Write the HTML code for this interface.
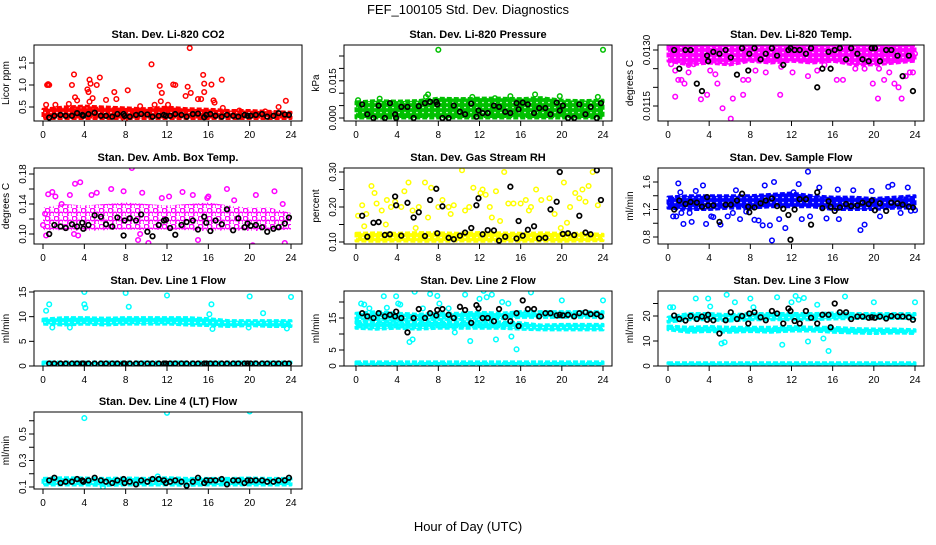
<!DOCTYPE html>
<html><head><meta charset="utf-8"><style>
body{margin:0;background:#fff}
svg text{font-family:"Liberation Sans",sans-serif}
</style></head><body>
<svg id="chart" width="936" height="540" viewBox="0 0 936 540" xmlns="http://www.w3.org/2000/svg">
<defs id="defs"></defs>
<text x="468" y="14" text-anchor="middle" font-size="13">FEF_100105  Std. Dev. Diagnostics</text>
<text x="468" y="531" text-anchor="middle" font-size="13">Hour of Day (UTC)</text>
</svg>
<script>
const xTicks = [0,4,8,12,16,20,24];
const blkHours = [0.6,1.1,1.7,2.2,2.8,3.3,3.8,3.9,4.4,5.0,5.6,6.1,6.7,7.2,7.8,7.9,8.4,9.0,9.5,10.1,10.6,11.2,11.7,11.9,12.3,12.8,13.4,13.9,14.5,15.0,15.6,15.8,16.2,16.7,17.3,17.8,18.4,18.9,19.5,19.8,20.1,20.6,21.2,21.7,22.3,22.8,23.4,23.8];
const bandHours = [0,2,4,6,8,10,12,14,16,18,20,22,24];

// CO2
const co2Lo = [0.24,0.24,0.24,0.24,0.24,0.24,0.24,0.24,0.24,0.24,0.24,0.24,0.24];
const co2Hi = [0.45,0.5,0.52,0.5,0.48,0.46,0.5,0.46,0.45,0.42,0.42,0.4,0.38];
const co2OutH = [0.4,0.5,0.6,0.3,1.2,2.5,2.8,3.0,3.1,3.3,4.3,4.4,4.5,4.6,4.5,4.8,5.2,5.5,6.1,6.9,7.1,8.2,9.4,10.5,10.8,11.3,11.5,11.4,12.6,12.8,12.1,13.8,14.0,14.2,14.3,15.0,15.3,15.5,15.6,15.6,16.3,16.5,16.6,17.3,17.4,19.0,21.5,22.8,23.5,7.9];
const co2OutV = [1.0,1.02,1.0,0.55,0.55,0.57,1.0,1.24,0.72,0.65,0.9,0.84,1.12,1.03,0.62,0.7,1.0,1.17,0.66,0.84,0.68,0.88,0.52,1.47,0.55,0.98,0.82,0.63,1.01,1.0,0.55,0.75,0.96,1.84,0.82,0.68,0.68,1.23,1.03,0.84,1.01,0.65,0.6,1.12,0.48,0.42,0.4,0.5,0.64,0.2];
const co2Blk = [0.26,0.3,0.32,0.3,0.3,0.36,0.32,0.3,0.34,0.37,0.3,0.3,0.28,0.34,0.34,0.3,0.28,0.32,0.34,0.33,0.28,0.3,0.32,0.3,0.3,0.34,0.32,0.28,0.34,0.35,0.27,0.32,0.34,0.3,0.28,0.32,0.3,0.28,0.32,0.3,0.3,0.32,0.34,0.28,0.3,0.36,0.33,0.32];

// Pressure
const prLo = [0,0,0,0,0,0,0,0,0,0,0,0,0];
const prHi = [0.0065,0.007,0.0068,0.007,0.008,0.0078,0.008,0.008,0.0078,0.0082,0.0072,0.007,0.0072];
const prOutH = [8,24,7,17.4,15,23.5,0.2,2.3,6.8,11.3,13.5,19.8];
const prOutV = [0.0275,0.0275,0.0095,0.0095,0.0088,0.0085,0.0072,0.0078,0.0085,0.0085,0.008,0.0088];
const prBlk = [0.0055,0.0015,0,0.005,0,0.006,0.0015,0,0.0045,0.0045,0,0.0048,0.006,0.0065,0.0065,0.0055,0,0,0.005,0.0025,0.0015,0.0058,0.0005,0.003,0.002,0.002,0.005,0.0045,0.0025,0.002,0.006,0.0035,0.0062,0.0055,0.002,0.004,0.004,0.0015,0.0062,0.003,0.005,0,0,0.0055,0.0015,0.0045,0,0.006];

// Li-820 Temp
const tpLo = [0.0127,0.0126,0.01265,0.0126,0.0127,0.01265,0.0127,0.01265,0.0127,0.0126,0.0126,0.01265,0.0127];
const tpHi = [0.0132,0.0132,0.0132,0.0132,0.0132,0.0132,0.0132,0.0132,0.0132,0.0132,0.0132,0.0132,0.0132];
const tpOutH = [0.3,0.7,1.0,1.3,1.6,0.7,2.0,2.5,3.2,3.8,4.1,4.6,4.8,5.3,6.1,6.3,7.3,7.3,7.8,8.5,9.5,10.9,12.1,13.6,14.5,16.4,17.0,18.2,19.1,19.9,20.4,21.0,21.5,22.0,22.4,22.7,23.1,23.5,23.8,24.0,2.0,11.0,15.2,20.5];
const tpOutV = [0.01262,0.01245,0.0122,0.0122,0.0121,0.01175,0.0124,0.01262,0.01168,0.0118,0.01245,0.01235,0.0121,0.01144,0.01116,0.0117,0.0118,0.0122,0.0122,0.01245,0.0124,0.0118,0.0124,0.0123,0.01245,0.0122,0.0122,0.0125,0.0125,0.0121,0.0117,0.0122,0.0124,0.0121,0.012,0.0117,0.0123,0.0124,0.0124,0.0129,0.0126,0.01255,0.0126,0.0125];
const tpBlk = [0.013,0.0125,0.013,0.013,0.0121,0.0119,0.01285,0.0127,0.01295,0.0129,0.013,0.0128,0.01234,0.01305,0.01245,0.0129,0.01305,0.01275,0.0129,0.01305,0.01285,0.0126,0.013,0.01305,0.013,0.013,0.0129,0.01305,0.012,0.0125,0.01295,0.0125,0.013,0.01305,0.01275,0.01305,0.0129,0.01275,0.0127,0.01305,0.01305,0.0127,0.013,0.013,0.01285,0.0123,0.01285,0.0119];

// Amb box temp
const abLo = [0.105,0.105,0.104,0.105,0.106,0.105,0.106,0.105,0.104,0.105,0.104,0.104,0.106];
const abHi = [0.135,0.14,0.138,0.14,0.142,0.14,0.138,0.14,0.142,0.138,0.135,0.135,0.128];
const abOutH = [0.0,0.3,0.5,0.9,1.2,1.8,2.6,3.1,3.4,3.6,4.7,5.2,6.6,7.8,8.6,9.2,9.6,10.2,11.5,13.5,14.5,15.0,16.0,17.8,18.5,20.3,20.6,22.4,23.2,23.4,9.4,0.2,3.0,12.2,15.9];
const abOutV = [0.112,0.098,0.153,0.156,0.15,0.14,0.152,0.167,0.098,0.169,0.152,0.155,0.16,0.157,0.188,0.092,0.155,0.088,0.148,0.156,0.152,0.092,0.15,0.16,0.145,0.085,0.152,0.157,0.14,0.088,0.1,0.127,0.1,0.15,0.148];
const abBlk = [0.1,0.112,0.11,0.108,0.113,0.11,0.115,0.107,0.112,0.125,0.123,0.113,0.11,0.122,0.098,0.118,0.121,0.118,0.126,0.103,0.097,0.112,0.118,0.119,0.108,0.099,0.112,0.116,0.118,0.106,0.123,0.115,0.104,0.118,0.113,0.133,0.105,0.121,0.109,0.114,0.111,0.112,0.109,0.103,0.107,0.109,0.114,0.122];

// Gas stream RH
const rhLo = [0.103,0.102,0.103,0.102,0.102,0.103,0.102,0.103,0.102,0.103,0.102,0.103,0.104];
const rhHi = [0.125,0.126,0.125,0.127,0.126,0.125,0.127,0.126,0.125,0.126,0.125,0.125,0.122];
const rhOutH = [0.2,0.6,1.0,1.5,1.8,2.0,2.5,3.0,3.4,3.8,4.4,4.7,5.1,5.5,6.1,6.7,7.0,7.3,8.0,8.4,9.0,9.5,10.3,10.6,11.0,11.4,12.1,12.3,12.6,13.0,13.6,14.0,14.4,14.8,15.3,16.0,16.5,17.0,17.5,18.0,18.8,19.3,19.9,20.2,20.8,21.3,21.7,22.0,22.6,23.0,23.5,0.8,2.9,5.8,9.2,13.2,16.8,20.5,22.3];
const rhOutV = [0.175,0.205,0.18,0.26,0.24,0.21,0.19,0.22,0.2,0.215,0.2,0.245,0.27,0.19,0.2,0.27,0.17,0.255,0.2,0.22,0.2,0.205,0.305,0.19,0.2,0.255,0.24,0.25,0.235,0.2,0.245,0.16,0.3,0.21,0.21,0.21,0.22,0.2,0.25,0.22,0.225,0.18,0.14,0.27,0.2,0.24,0.225,0.25,0.26,0.3,0.205,0.145,0.15,0.14,0.18,0.17,0.19,0.155,0.215];
const rhBlk = [0.175,0.115,0.155,0.157,0.12,0.122,0.23,0.205,0.118,0.212,0.17,0.185,0.117,0.22,0.252,0.125,0.202,0.112,0.108,0.118,0.127,0.14,0.205,0.225,0.122,0.134,0.133,0.104,0.115,0.258,0.11,0.16,0.118,0.135,0.145,0.11,0.112,0.193,0.215,0.3,0.123,0.125,0.12,0.175,0.127,0.122,0.305,0.22];

// Sample flow
const sfLo = [1.22,1.2,1.2,1.22,1.22,1.24,1.24,1.24,1.2,1.2,1.2,1.22,1.22];
const sfHi = [1.38,1.4,1.4,1.4,1.4,1.42,1.44,1.4,1.38,1.38,1.36,1.38,1.4];
const sfOutH = [0.2,0.5,0.8,1.0,1.3,1.5,2.1,2.3,2.7,3.4,3.7,4.2,4.4,5.1,5.8,6.3,7.0,7.6,8.4,8.8,9.2,9.4,9.9,10.1,10.3,10.8,11.4,12.7,13.0,13.6,13.8,14.7,15.4,16.6,18.0,18.7,19.1,19.8,20.6,21.4,21.8,22.6,23.3,23.6,24.0,1.2,6.6,12.2,16.5];
const sfOutV = [1.28,1.1,1.1,1.58,1.15,0.99,1.15,1.02,1.47,1.55,0.99,1.1,1.09,0.98,1.1,1.15,1.06,1.17,1.05,1.04,0.97,1.55,0.97,0.75,1.6,1.06,0.93,1.57,1.06,1.75,1.1,1.52,1.07,1.06,1.48,0.9,0.98,1.47,1.1,1.53,1.56,1.15,1.52,1.18,1.19,1.45,1.48,1.45,1.49];
const sfBlk = [1.2,1.33,1.28,1.31,1.3,1.24,1.38,1.26,1.26,1.02,1.27,1.27,1.33,1.43,1.24,1.16,1.23,1.29,1.33,1.36,1.25,1.21,1.12,0.76,1.2,1.35,1.35,0.98,1.45,1.22,1.32,1.24,1.18,1.23,1.28,1.25,1.26,1.3,1.28,1.33,1.19,1.29,1.18,1.3,1.29,1.27,1.24,1.23];

// Line 1 flow
const l1Lo = [8.5,8.3,8.5,8.3,8.5,8.5,8.5,8.3,8.2,8.0,8.2,8.0,8.0];
const l1Hi = [9.5,9.8,9.8,9.7,9.8,9.8,9.8,9.8,9.6,9.2,9.2,9.2,9.2];
const l1Lo2 = [0.3,0.3,0.3,0.3,0.3,0.3,0.3,0.3,0.3,0.3,0.3,0.3,0.3];
const l1Hi2 = [0.8,0.8,0.8,0.8,0.8,0.8,0.8,0.8,0.8,0.8,0.8,0.8,0.8];
const l1OutH = [4.0,0.6,4.0,4.1,8.0,8.3,12.0,16.3,20.0,24.0,21.3,0.3,0.9,2.6,16.1,16.4,19.9,23.6];
const l1OutV = [15,12.5,12.5,11.8,14.8,12,14.3,12.5,14.1,14,10.7,11.2,7.8,7.8,10.5,7.5,7.8,7.6];
const l1Blk = [0.5,0.5,0.5,0.5,0.5,0.5,0.5,0.5,0.5,0.5,0.5,0.5,0.5,0.5,0.5,0.5,0.5,0.5,0.5,0.5,0.5,0.5,0.5,0.5,0.5,0.5,0.5,0.5,0.5,0.5,0.5,0.5,0.5,0.5,0.5,0.5,0.5,0.5,0.5,0.5,0.5,0.5,0.5,0.5,0.5,0.5,0.5,0.5];

// Line 2 flow
const l2Lo = [11.8,11.5,11.8,11.5,11.8,11.8,11.8,11.8,11.5,11.3,11.3,11.3,11.3];
const l2Hi = [14.0,13.8,14.0,13.8,13.8,13.8,14.0,13.8,13.5,12.8,13.0,13.0,13.0];
const l2Lo2 = [0.3,0.3,0.3,0.3,0.3,0.3,0.3,0.3,0.3,0.3,0.3,0.3,0.3];
const l2Hi2 = [1.3,1.3,1.3,1.3,1.3,1.3,1.3,1.3,1.3,1.3,1.3,1.3,1.3];
const l2Lo3 = [14.8,14.5,14.5,14.5,14.5,14.5,14.8,14.8,15.2,15.2,15.2,15.2,15.2];
const l2Hi3 = [16.5,17.0,16.5,16.2,16.5,16.5,16.8,16.5,17.0,17.0,17.0,17.0,17.0];
const l2OutH = [0.2,0.5,0.8,2.7,3.9,4.1,4.3,5.2,5.5,5.7,6.5,7.2,7.9,8.1,9.6,10.6,11.1,12.0,12.4,12.7,13.2,13.6,14.2,14.8,15.1,15.6,17.0,20.0,24.0,1.3,3.0,9.0];
const l2OutV = [13.2,19.5,19.2,21.8,21.8,19.5,19.2,7.5,8.3,23.2,18,22.5,21.9,19.5,10.5,22.3,7.8,21,23.5,21.5,22.3,8.3,20.0,19.5,9.2,5.2,23,20.5,20.5,18.0,18.2,18.0];
const l2Blk = [16.5,15.5,15.0,16.5,15.5,16.0,15.5,17.0,15.0,10.5,15.0,17.8,15.0,16.5,15.8,17.5,17.8,16.0,15.0,18.5,17.5,13.5,19.0,18.0,15.0,15.0,14.0,17.8,15.3,14.0,16.5,12.5,20.5,17.8,17.8,15.5,16.5,16.5,15.8,16.0,15.8,16.0,15.5,16.5,16.8,16.2,16.2,15.5];

// Line 3 flow
const l3Lo = [14.5,13.5,13.8,13.5,13.8,13.5,14.0,14.0,13.5,13.2,13.0,13.2,13.0];
const l3Hi = [16.0,15.5,15.8,15.5,15.5,15.5,15.8,15.5,15.5,15.0,14.8,14.8,14.5];
const l3Lo2 = [0.3,0.3,0.3,0.3,0.3,0.3,0.3,0.3,0.3,0.3,0.3,0.3,0.3];
const l3Hi2 = [1.3,1.3,1.3,1.3,1.3,1.3,1.3,1.3,1.3,1.3,1.3,1.3,1.3];
const l3Lo3 = [17.5,18.5,18.5,18.0,18.5,18.5,18.5,18.5,18.8,19.0,19.0,19.0,19.0];
const l3Hi3 = [19.5,21.0,21.0,20.5,21.0,21.0,21.0,21.0,21.2,21.0,21.0,21.0,21.0];
const l3OutH = [0.2,0.5,2.7,3.9,4.1,5.2,5.5,5.7,6.5,8.0,8.3,10.6,11.1,12.0,12.4,12.7,13.2,13.6,14.5,15.1,15.6,17.2,20.0,24.0];
const l3OutV = [23.5,23.5,27,27,23.8,9.0,9.5,28.5,25.5,27,23.5,27.5,8.5,25.5,28,26.5,27.2,9.8,24.5,11,6,27.8,25.5,25.5];
const l3Blk = [20.2,18.8,18.2,20.0,18.8,19.8,18.5,20.5,18.3,13.0,18.3,21.5,18.8,20.0,17.0,21.0,21.5,19.5,18.3,22.0,21.0,17.0,23.0,22.0,18.0,17.0,22.0,19.3,17.0,20.5,20.5,15.5,25.0,21.5,21.5,18.8,19.8,19.8,19.3,19.5,19.3,19.8,19.0,20.0,19.8,19.8,19.5,18.5];

// Line 4 flow
const l4Lo = [0.115,0.115,0.115,0.112,0.115,0.115,0.115,0.113,0.115,0.115,0.115,0.115,0.115];
const l4Hi = [0.165,0.17,0.168,0.165,0.168,0.165,0.17,0.165,0.165,0.165,0.168,0.165,0.165];
const l4OutH = [4.0,12.0,20.0,11.1,5.8];
const l4OutV = [0.62,0.66,0.67,0.18,0.1];
const l4Blk = [0.15,0.17,0.13,0.14,0.14,0.16,0.15,0.14,0.15,0.17,0.15,0.14,0.13,0.15,0.16,0.13,0.14,0.12,0.15,0.14,0.16,0.16,0.15,0.13,0.14,0.15,0.14,0.11,0.14,0.17,0.13,0.15,0.15,0.15,0.16,0.12,0.15,0.15,0.13,0.15,0.15,0.15,0.15,0.14,0.14,0.15,0.15,0.17];

const NS = 'http://www.w3.org/2000/svg';
const svg = document.getElementById('chart');
const defs = document.getElementById('defs');
const cols = [{l:34,r:302,x0:43,x24:291},{l:344,r:612,x0:356,x24:603},{l:658,r:924,x0:668,x24:915}];
const rows = [{t:45,b:121},{t:168,b:244},{t:291,b:366},{t:412,b:489}];

function mk(tag, attrs, parent){
  const e = document.createElementNS(NS, tag);
  for (const k in attrs) e.setAttribute(k, attrs[k]);
  (parent||svg).appendChild(e);
  return e;
}

function pattern(id, color, sparse){
  const p = mk('pattern', {id:id, width: sparse ? 9 : 6, height: sparse ? 8 : 5, patternUnits:'userSpaceOnUse'}, defs);
  if (sparse) {
    mk('circle', {cx:2.5, cy:2.5, r:2.3, fill:'none', stroke:color, 'stroke-width':'1.5'}, p);
    mk('circle', {cx:7, cy:6.5, r:2.3, fill:'none', stroke:color, 'stroke-width':'1.5'}, p);
  } else {
    mk('rect', {x:0, y:0, width:6, height:5, fill:color}, p);
    mk('circle', {cx:3, cy:2.5, r:0.8, fill:'#fff'}, p);
  }
}

const panels = [
 {slug:'co2',title:'Stan. Dev. Li-820 CO2',ylab:'Licor ppm',c:0,r:0,color:'#ff0000',sparse:false,cal:[0.5,107,1.5,63],ticks:[0.5,1.0,1.5],labels:['0.5','1.0','1.5'],bands:[[co2Lo,co2Hi]],oh:co2OutH,ov:co2OutV,blk:co2Blk},
 {slug:'pressure',title:'Stan. Dev. Li-820 Pressure',ylab:'kPa',c:1,r:0,color:'#00c000',sparse:false,cal:[0,118,0.015,80.8],ticks:[0,0.005,0.01,0.015,0.02,0.025],labels:['0.000','','','0.015','',''],bands:[[prLo,prHi]],oh:prOutH,ov:prOutV,blk:prBlk},
 {slug:'temp',title:'Stan. Dev. Li-820 Temp.',ylab:'degrees C',c:2,r:0,color:'#ff00ff',sparse:false,cal:[0.0115,106,0.013,50],ticks:[0.0115,0.012,0.0125,0.013],labels:['0.0115','','','0.0130'],bands:[[tpLo,tpHi]],oh:tpOutH,ov:tpOutV,blk:tpBlk},
 {slug:'amb-box',title:'Stan. Dev. Amb. Box Temp.',ylab:'degrees C',c:0,r:1,color:'#ff00ff',sparse:true,cal:[0.1,234,0.18,174],ticks:[0.1,0.12,0.14,0.16,0.18],labels:['0.10','','0.14','','0.18'],bands:[[abLo,abHi]],oh:abOutH,ov:abOutV,blk:abBlk},
 {slug:'rh',title:'Stan. Dev. Gas Stream RH',ylab:'percent',c:1,r:1,color:'#ffff00',sparse:false,cal:[0.1,242,0.3,172],ticks:[0.1,0.15,0.2,0.25,0.3],labels:['0.10','','0.20','','0.30'],bands:[[rhLo,rhHi]],oh:rhOutH,ov:rhOutV,blk:rhBlk},
 {slug:'sample-flow',title:'Stan. Dev. Sample Flow',ylab:'ml/min',c:2,r:1,color:'#0000ff',sparse:false,cal:[0.8,237,1.6,182],ticks:[0.8,1.0,1.2,1.4,1.6],labels:['0.8','','1.2','','1.6'],bands:[[sfLo,sfHi]],oh:sfOutH,ov:sfOutV,blk:sfBlk},
 {slug:'line1',title:'Stan. Dev. Line 1 Flow',ylab:'ml/min',c:0,r:2,color:'#00ffff',sparse:false,cal:[0,366,15,292],ticks:[0,5,10,15],labels:['0','5','10','15'],bands:[[l1Lo,l1Hi],[l1Lo2,l1Hi2]],oh:l1OutH,ov:l1OutV,blk:l1Blk},
 {slug:'line2',title:'Stan. Dev. Line 2 Flow',ylab:'ml/min',c:1,r:2,color:'#00ffff',sparse:false,cal:[0,366,15,318],ticks:[0,5,10,15,20],labels:['0','5','','15',''],bands:[[l2Lo,l2Hi],[l2Lo2,l2Hi2],[l2Lo3,l2Hi3]],oh:l2OutH,ov:l2OutV,blk:l2Blk},
 {slug:'line3',title:'Stan. Dev. Line 3 Flow',ylab:'ml/min',c:2,r:2,color:'#00ffff',sparse:false,cal:[0,366,20,316],ticks:[0,10,20,25],labels:['0','10','20',''],bands:[[l3Lo,l3Hi],[l3Lo2,l3Hi2],[l3Lo3,l3Hi3]],oh:l3OutH,ov:l3OutV,blk:l3Blk},
 {slug:'line4',title:'Stan. Dev. Line 4 (LT) Flow',ylab:'ml/min',c:0,r:3,color:'#00ffff',sparse:false,cal:[0.1,487,0.5,434],ticks:[0.1,0.2,0.3,0.4,0.5,0.6],labels:['0.1','','0.3','','0.5',''],bands:[[l4Lo,l4Hi]],oh:l4OutH,ov:l4OutV,blk:l4Blk}
];

panels.forEach(p => {
  const C = cols[p.c], R = rows[p.r];
  const xs = h => C.x0 + h*(C.x24 - C.x0)/24;
  const ys = v => p.cal[1] + (v - p.cal[0])*(p.cal[3]-p.cal[1])/(p.cal[2]-p.cal[0]);
  const g = mk('g', {});
  
  
  const cid = 'clip-' + p.slug;
  const pid = 'pat-' + p.slug;
  pattern(pid, p.color, p.sparse);
  const cp = mk('clipPath', {id: cid}, g);
  mk('rect', {x:C.l, y:R.t, width:C.r-C.l, height:R.b-R.t}, cp);
  const t = mk('text', {x:(C.l+C.r)/2, y:R.t-7, 'text-anchor':'middle', 'font-size':'11', 'font-weight':'bold'}, g);
  
  
  t.textContent = p.title;
  const yl = mk('text', {transform:`translate(${C.l-25},${(R.t+R.b)/2}) rotate(-90)`, 'text-anchor':'middle', 'font-size':'10'}, g);
  
  
  yl.textContent = p.ylab;
  const marks = mk('g', {'clip-path':`url(#${cid})`}, g);
  
  
  p.bands.forEach(b => {
    const pts = [];
    bandHours.forEach((h,i) => pts.push(xs(h)+','+ys(b[1][i])));
    for (let i = bandHours.length-1; i >= 0; i--) pts.push(xs(bandHours[i])+','+ys(b[0][i]));
    const poly = mk('polygon', {points:pts.join(' '), fill:`url(#${pid})`, stroke: p.sparse ? 'none' : p.color, 'stroke-width':'3', 'stroke-dasharray': p.sparse ? '' : '5 2', 'stroke-linejoin':'round'}, marks);
    
    
  });
  p.oh.forEach((h,i) => {
    const c = mk('circle', {cx:xs(h), cy:ys(p.ov[i]), r:2.3, fill:'none', stroke:p.color, 'stroke-width':'1.5'}, marks);
    
    
  });
  blkHours.forEach((h,i) => {
    const c = mk('circle', {cx:xs(h), cy:ys(p.blk[i]), r:2.3, fill:'none', stroke:'#000', 'stroke-width':'1.7'}, marks);
    
    
  });
  const box = mk('rect', {x:C.l, y:R.t, width:C.r-C.l, height:R.b-R.t, fill:'none', stroke:'#000', 'stroke-width':'1'}, g);
  
  
  xTicks.forEach(v => {
    mk('line', {x1:xs(v), x2:xs(v), y1:R.b, y2:R.b+5, stroke:'#000'}, g);
    const tl = mk('text', {x:xs(v), y:R.b+17, 'text-anchor':'middle', 'font-size':'10'}, g);
    
    
    tl.textContent = v;
  });
  p.ticks.forEach((v,i) => {
    mk('line', {x1:C.l-5, x2:C.l, y1:ys(v), y2:ys(v), stroke:'#000'}, g);
    if (p.labels[i]) {
      const tl = mk('text', {transform:`translate(${C.l-8},${ys(v)}) rotate(-90)`, 'text-anchor':'middle', 'font-size':'10'}, g);
      
      
      tl.textContent = p.labels[i];
    }
  });
  mk('line', {x1:C.l, x2:C.l, y1:ys(p.ticks[0]), y2:ys(p.ticks[p.ticks.length-1]), stroke:'#000'}, g);
});
</script>
</body></html>
